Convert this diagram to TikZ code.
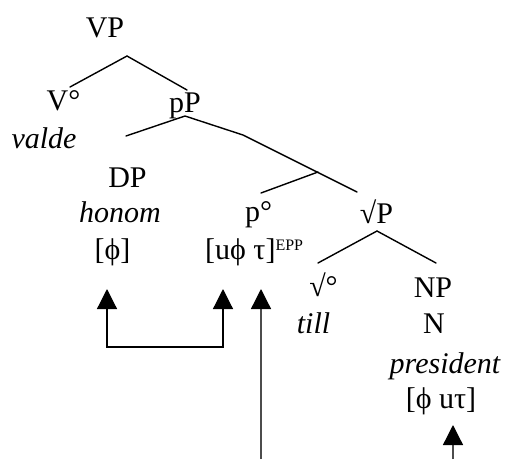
\documentclass[tikz,border=0pt]{standalone}
\usepackage{fontspec}
\setmainfont{Liberation Serif}
\usetikzlibrary{arrows.meta}
\begin{document}
\begin{tikzpicture}[x=1pt,y=-1pt,
  lbl/.style={inner sep=0pt,anchor=base,font=\fontsize{30}{36}\selectfont},
  branch/.style={line width=1.4pt,line cap=round},
  tip/.style={-{Triangle[length=20pt,width=20pt,color=black]}},
  arr/.style={line width=1.3pt,draw=black!70,tip},
  arrboth/.style={line width=1.2pt,{Triangle[length=20pt,width=20pt]}-{Triangle[length=20pt,width=20pt]}}]
\useasboundingbox (0,0) rectangle (507,459);
% labels
\node[lbl] (VP) at (105,37) {VP};
\node[lbl] (V0) at (63.5,110) {V°};
\node[lbl] (valde) at (44,148) {\itshape valde};
\node[lbl] (pP) at (185,112) {pP};
\node[lbl] (DP) at (127.5,187) {DP};
\node[lbl] (honom) at (120,222) {\itshape honom};
\node[lbl] (phi) at (112.5,259) {[ϕ]};
\node[lbl] (p0) at (258.5,221) {p°};
\node[lbl,anchor=base west] (uphi) at (205,259) {[uϕ τ]\raisebox{9pt}{\fontsize{16}{16}\selectfont EPP}};
\node[lbl] (rootP) at (376.5,223) {√P};
\node[lbl] (root0) at (323.5,296) {√°};
\node[lbl] (NP) at (433,297) {NP};
\node[lbl] (till) at (313.5,333) {\itshape till};
\node[lbl] (N) at (434,333) {N};
\node[lbl] (pres) at (445,373) {\itshape president};
\node[lbl] (phiu) at (441,408) {[ϕ uτ]};
% tree branches
\coordinate (vpA) at (127,56);
\coordinate (vpL) at (70,87);
\coordinate (vpR) at (187,90);
\coordinate (ppA) at (185,116);
\coordinate (ppL) at (126,136);
\coordinate (ppB) at (243,135);
\coordinate (pbarA) at (318,172);
\coordinate (pbarL) at (261,193);
\coordinate (pbarR) at (357,192);
\coordinate (rtA) at (377,231);
\coordinate (rtL) at (318,263);
\coordinate (rtR) at (436,263);
\draw[branch] (vpL) -- (vpA) -- (vpR);
\draw[branch] (ppL) -- (ppA) -- (ppB) -- (pbarR);
\draw[branch] (pbarL) -- (pbarA);
\draw[branch] (rtL) -- (rtA) -- (rtR);
% arrows
\coordinate (aL) at (107,289);
\coordinate (aR) at (223,289);
\coordinate (aM) at (261,289);
\coordinate (aMb) at (261,459);
\coordinate (aN) at (453,425);
\coordinate (aNb) at (453,459);
\draw[arrboth] (aL) |- (165,347) -| (aR);
\draw[arr] (aMb) -- (aM);
\draw[arr] (aNb) -- (aN);
\end{tikzpicture}
\end{document}
